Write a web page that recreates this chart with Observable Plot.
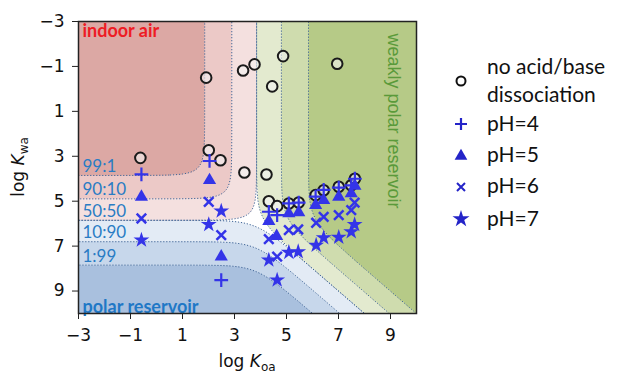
<!DOCTYPE html>
<html>
<head>
<meta charset="utf-8">
<script src="https://cdn.jsdelivr.net/npm/d3@7"></script>
<script src="https://cdn.jsdelivr.net/npm/@observablehq/plot@0.6"></script>
<style>
  body { margin: 0; background: #fff; }
  #chart { position: relative; width: 621px; height: 373px; }
</style>
</head>
<body>
<div id="chart"></div>
<script>
// ---- axis ticks ----
const koaTicks = [-3, -1, 1, 3, 5, 7, 9];
const kwaTicks = [-3, -1, 1, 3, 5, 7, 9];

// ---- partitioning model (phase volume ratios, log10) ----
const logVoVa = -3.85;   // organic / air
const logVwVa = -5.85;   // water / air
const thresholds = [0.5, 0.9, 0.99];
const airShades = ["#f4e0df", "#ecc9c7", "#dca8a4"];
const waterShades = ["#e3ebf5", "#c7d7eb", "#a9c0de"];
const orgShades = ["#e3eacf", "#cfdcae", "#b6ca87"];

// contour labels (air : water)
const ratioLabels = ["99:1", "90:10", "50:50", "10:90", "1:99"];
const ratioAir = [99, 90, 50, 10, 1];
const ratioWater = [1, 10, 50, 90, 99];

// ---- compounds ----
const noDissKoa = [-0.62, 1.91, 2.01, 2.46, 3.33, 3.38, 3.77, 4.23, 4.45, 4.87, 6.95, 4.32, 4.64, 5.09, 5.47, 6.12, 6.43, 7.01, 7.49, 7.63];
const noDissKwa = [3.07, -0.50, 2.73, 3.18, -0.82, 3.72, -1.09, 3.81, -0.11, -1.46, -1.12, 5.00, 5.22, 5.10, 5.06, 4.73, 4.51, 4.36, 4.29, 4.00];
const ph4Koa = [-0.58, 2.04, 2.49, 4.32, 4.64, 5.09, 5.47, 6.12, 6.43, 7.01, 7.49, 7.63];
const ph4Kwa = [3.81, 3.21, 8.51, 5.47, 5.62, 5.10, 5.06, 4.80, 4.50, 4.40, 4.30, 4.00];
const ph5Koa = [-0.58, 2.04, 2.49, 4.32, 4.62, 5.09, 5.47, 6.12, 6.43, 7.01, 7.49, 7.63];
const ph5Kwa = [4.81, 4.07, 7.47, 5.89, 6.56, 5.55, 5.50, 5.18, 4.96, 4.81, 4.66, 4.32];
const ph6Koa = [-0.58, 2.01, 2.49, 4.32, 4.64, 5.09, 5.45, 6.14, 6.43, 7.01, 7.49, 7.62];
const ph6Kwa = [5.77, 5.03, 6.51, 6.69, 7.47, 6.29, 6.26, 5.96, 5.70, 5.62, 5.40, 5.06];
const ph7Koa = [-0.58, 2.01, 2.49, 4.32, 4.64, 5.09, 5.45, 6.14, 6.43, 7.01, 7.49, 7.62];
const ph7Kwa = [6.73, 6.04, 5.44, 7.62, 8.51, 7.28, 7.25, 6.96, 6.63, 6.61, 6.36, 6.04];

const legendLabels = ["no acid/base", "dissociation", "pH=4", "pH=5", "pH=6", "pH=7"];

const markBlue = "#3434e8";
const lineColor = "#3f6496";

function pts(xs, ys) { return xs.map((x, i) => ({koa: x, kwa: ys[i]})); }
function fracs(x, y) {
  const a = 1, w = 10 ** (y + logVwVa), o = 10 ** (x + logVoVa);
  const s = a + w + o;
  return [a / s, w / s, o / s];
}
function level(f) { let l = -1; thresholds.forEach((t, i) => { if (f >= t) l = i; }); return l; }
function regionColor(x, y) {
  const [fa, fw, fo] = fracs(x, y);
  const la = level(fa), lw = level(fw), lo = level(fo);
  if (la >= 0) return airShades[la];
  if (lw >= 0) return waterShades[lw];
  if (lo >= 0) return orgShades[lo];
  return "#ffffff";
}
const fmt = d => String(d).replace("-", "\u2212");
const dom = {x1: -3, x2: 10, y1: -3, y2: 10};
const contourOpts = {...dom, thresholds, fill: "none", stroke: lineColor, strokeWidth: 1, strokeDasharray: "1.2,1.8", pixelSize: 1};

const labelData = ratioLabels.map((t, i) => ({t, kwa: Math.log10(ratioWater[i] / ratioAir[i]) - logVwVa}));

const svg = Plot.plot({
  width: 621, height: 373,
  marginLeft: 78, marginRight: 205, marginTop: 21, marginBottom: 60,
  x: {domain: [-3, 10], label: null},
  y: {domain: [-3, 10], reverse: true, label: null},
  color: {type: "identity"},
  style: {fontFamily: "DejaVu Sans, sans-serif", fontSize: "16px", color: "#111", background: "transparent", overflow: "visible"},
  marks: [
    Plot.raster({...dom, fill: (x, y) => regionColor(x, y), pixelSize: 1}),
    Plot.contour({...contourOpts, value: (x, y) => fracs(x, y)[0]}),
    Plot.contour({...contourOpts, value: (x, y) => fracs(x, y)[1]}),
    Plot.contour({...contourOpts, value: (x, y) => fracs(x, y)[2]}),
    Plot.text(labelData, {x: -3, y: "kwa", text: "t", dx: 4, dy: -9, textAnchor: "start", fill: "#2a7cc4", fontSize: 17, fontFamily: "Lato, sans-serif"}),
    Plot.text(["indoor air"], {frameAnchor: "top-left", dx: 4, dy: 3, lineAnchor: "top", fill: "#ee1c24", fontWeight: "bold", fontSize: 18, fontFamily: "Lato, sans-serif"}),
    Plot.text(["polar reservoir"], {frameAnchor: "bottom-left", dx: 4, dy: -1, lineAnchor: "bottom", fill: "#1f78c6", fontWeight: "bold", fontSize: 18, fontFamily: "Lato, sans-serif"}),
    Plot.text(["weakly polar reservoir"], {frameAnchor: "top-right", dx: -16, dy: 12, rotate: 90, textAnchor: "start", fill: "#5a9a3a", fontSize: 18, fontFamily: "Liberation Sans, Arial, sans-serif"}),
    Plot.dot(pts(noDissKoa, noDissKwa), {x: "koa", y: "kwa", r: 5.3, stroke: "#1a1a1a", strokeWidth: 2, fill: "#f4f4f4", fillOpacity: 0.6}),
    Plot.dot(pts(ph4Koa, ph4Kwa), {x: "koa", y: "kwa", symbol: "plus", r: 4.5, stroke: markBlue, strokeWidth: 2.2}),
    Plot.dot(pts(ph5Koa, ph5Kwa), {x: "koa", y: "kwa", symbol: "triangle", r: 4.9, fill: markBlue, stroke: "none"}),
    Plot.dot(pts(ph6Koa, ph6Kwa), {x: "koa", y: "kwa", symbol: "times", r: 4.4, stroke: markBlue, strokeWidth: 2.5}),
    Plot.dot(pts(ph7Koa, ph7Kwa), {x: "koa", y: "kwa", symbol: "star", r: 5, fill: markBlue, stroke: "none"}),
    Plot.frame({stroke: "#222", strokeWidth: 1.5}),
    Plot.axisX({ticks: koaTicks, tickFormat: fmt, tickSize: 6, tickPadding: 9, fontSize: 17, label: null, stroke: "#222"}),
    Plot.axisY({ticks: kwaTicks, tickFormat: fmt, tickSize: 6, tickPadding: 8, fontSize: 17, label: null, stroke: "#222"})
  ]
});
document.getElementById("chart").appendChild(svg);

const s = d3.select(svg);
// axis titles
const xl = s.append("text").attr("x", 247).attr("y", 367).attr("text-anchor", "middle")
  .attr("font-family", "DejaVu Sans, sans-serif").attr("font-size", 17).attr("fill", "#111");
xl.append("tspan").text("log ");
xl.append("tspan").attr("font-style", "italic").text("K");
xl.append("tspan").attr("font-size", 12).attr("dy", 4).text("oa");
const yl = s.append("text").attr("transform", "translate(24,167) rotate(-90)").attr("text-anchor", "middle")
  .attr("font-family", "DejaVu Sans, sans-serif").attr("font-size", 17).attr("fill", "#111");
yl.append("tspan").text("log ");
yl.append("tspan").attr("font-style", "italic").text("K");
yl.append("tspan").attr("font-size", 12).attr("dy", 4).text("wa");

// legend
const lg = s.append("g").attr("font-family", "Lato, sans-serif").attr("font-size", 21).attr("fill", "#111").attr("text-anchor", "start");
const legBlue = "#2424c8";
const mx = 461, tx = 487;
lg.append("circle").attr("cx", mx).attr("cy", 81).attr("r", 4.5).attr("fill", "none").attr("stroke", "#111").attr("stroke-width", 2);
const rowsY = [67, 95, 124, 155, 186, 219];
legendLabels.forEach((t, i) => {
  lg.append("text").attr("x", tx).attr("y", rowsY[i]).attr("dy", "0.35em").text(t);
});
lg.append("path").attr("transform", `translate(${mx},124)`).attr("d", "M-6,0H6M0,-6V6").attr("stroke", legBlue).attr("stroke-width", 2.2).attr("fill", "none");
lg.append("path").attr("transform", `translate(${mx},156)`).attr("d", d3.symbol(d3.symbolTriangle, 70)()).attr("fill", legBlue);
lg.append("path").attr("transform", `translate(${mx},187)`).attr("d", "M-4,-4L4,4M-4,4L4,-4").attr("stroke", legBlue).attr("stroke-width", 2).attr("fill", "none");
lg.append("path").attr("transform", `translate(${mx},219)`).attr("d", d3.symbol(d3.symbolStar, 90)()).attr("fill", legBlue);
</script>
</body>
</html>
